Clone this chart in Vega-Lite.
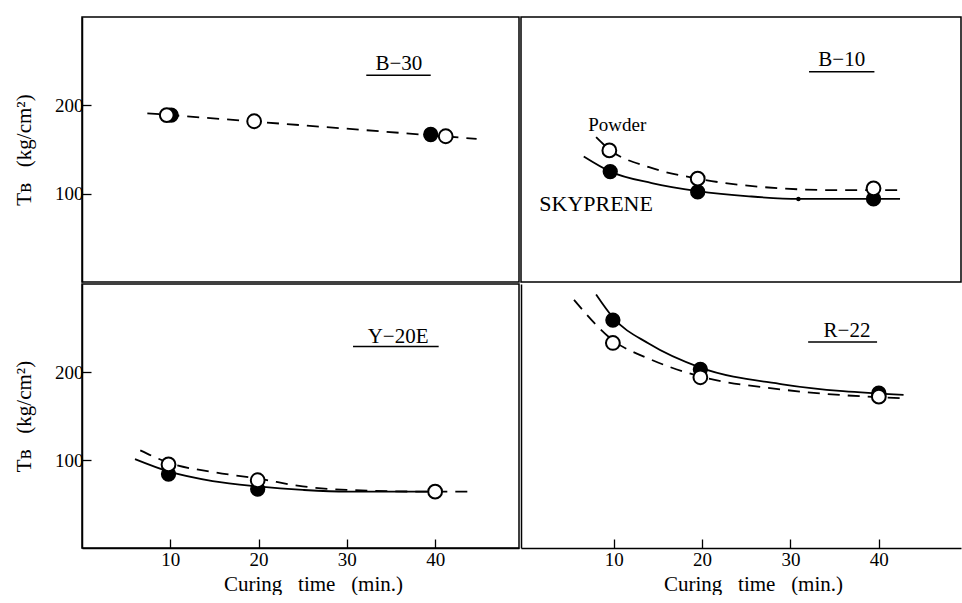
{
  "$schema": "https://vega.github.io/schema/vega-lite/v6.json",
  "padding": {"left": 12, "top": 16, "right": 0, "bottom": 0},
  "background": "white",
  "datasets": {
    "curves": [
      {"panel": "B−30", "series": "Powder", "t": 7.4, "tb": 191},
      {"panel": "B−30", "series": "Powder", "t": 19, "tb": 182},
      {"panel": "B−30", "series": "Powder", "t": 32, "tb": 172},
      {"panel": "B−30", "series": "Powder", "t": 44.7, "tb": 162},
      {"panel": "B−10", "series": "Powder", "t": 8.0, "tb": 164},
      {"panel": "B−10", "series": "Powder", "t": 9.5, "tb": 150},
      {"panel": "B−10", "series": "Powder", "t": 14, "tb": 130},
      {"panel": "B−10", "series": "Powder", "t": 19.5, "tb": 117},
      {"panel": "B−10", "series": "Powder", "t": 27.5, "tb": 107},
      {"panel": "B−10", "series": "Powder", "t": 35.3, "tb": 104},
      {"panel": "B−10", "series": "Powder", "t": 42.1, "tb": 104},
      {"panel": "B−10", "series": "SKYPRENE", "t": 6.6, "tb": 142},
      {"panel": "B−10", "series": "SKYPRENE", "t": 9.6, "tb": 125},
      {"panel": "B−10", "series": "SKYPRENE", "t": 14.3, "tb": 112},
      {"panel": "B−10", "series": "SKYPRENE", "t": 19.5, "tb": 103},
      {"panel": "B−10", "series": "SKYPRENE", "t": 25.3, "tb": 97},
      {"panel": "B−10", "series": "SKYPRENE", "t": 30.9, "tb": 94},
      {"panel": "B−10", "series": "SKYPRENE", "t": 42.4, "tb": 94},
      {"panel": "Y−20E", "series": "Powder", "t": 6.6, "tb": 111},
      {"panel": "Y−20E", "series": "Powder", "t": 9.8, "tb": 97},
      {"panel": "Y−20E", "series": "Powder", "t": 15, "tb": 86},
      {"panel": "Y−20E", "series": "Powder", "t": 19.9, "tb": 79},
      {"panel": "Y−20E", "series": "Powder", "t": 25, "tb": 70},
      {"panel": "Y−20E", "series": "Powder", "t": 30, "tb": 66},
      {"panel": "Y−20E", "series": "Powder", "t": 40, "tb": 64},
      {"panel": "Y−20E", "series": "Powder", "t": 44.3, "tb": 64},
      {"panel": "Y−20E", "series": "SKYPRENE", "t": 6, "tb": 101},
      {"panel": "Y−20E", "series": "SKYPRENE", "t": 9.8, "tb": 87},
      {"panel": "Y−20E", "series": "SKYPRENE", "t": 14.8, "tb": 76},
      {"panel": "Y−20E", "series": "SKYPRENE", "t": 19.9, "tb": 70},
      {"panel": "Y−20E", "series": "SKYPRENE", "t": 25, "tb": 66},
      {"panel": "Y−20E", "series": "SKYPRENE", "t": 30, "tb": 64},
      {"panel": "Y−20E", "series": "SKYPRENE", "t": 40, "tb": 64},
      {"panel": "R−22", "series": "Powder", "t": 5.5, "tb": 282},
      {"panel": "R−22", "series": "Powder", "t": 9.9, "tb": 236},
      {"panel": "R−22", "series": "Powder", "t": 14, "tb": 215},
      {"panel": "R−22", "series": "Powder", "t": 19.8, "tb": 195},
      {"panel": "R−22", "series": "Powder", "t": 29.1, "tb": 180},
      {"panel": "R−22", "series": "Powder", "t": 42.8, "tb": 170},
      {"panel": "R−22", "series": "SKYPRENE", "t": 8.0, "tb": 288},
      {"panel": "R−22", "series": "SKYPRENE", "t": 9.9, "tb": 262},
      {"panel": "R−22", "series": "SKYPRENE", "t": 14, "tb": 232},
      {"panel": "R−22", "series": "SKYPRENE", "t": 19.8, "tb": 205},
      {"panel": "R−22", "series": "SKYPRENE", "t": 29.1, "tb": 186},
      {"panel": "R−22", "series": "SKYPRENE", "t": 42.8, "tb": 174}
    ],
    "points": [
      {"panel": "B−30", "series": "SKYPRENE", "t": 10.1, "tb": 189},
      {"panel": "B−30", "series": "SKYPRENE", "t": 39.5, "tb": 167},
      {"panel": "B−30", "series": "Powder", "t": 9.6, "tb": 189},
      {"panel": "B−30", "series": "Powder", "t": 19.5, "tb": 182},
      {"panel": "B−30", "series": "Powder", "t": 41.2, "tb": 165},
      {"panel": "B−10", "series": "SKYPRENE", "t": 9.6, "tb": 125},
      {"panel": "B−10", "series": "SKYPRENE", "t": 19.5, "tb": 102},
      {"panel": "B−10", "series": "SKYPRENE", "t": 39.4, "tb": 94},
      {"panel": "B−10", "series": "dot", "t": 30.9, "tb": 94},
      {"panel": "B−10", "series": "Powder", "t": 9.5, "tb": 149},
      {"panel": "B−10", "series": "Powder", "t": 19.5, "tb": 117},
      {"panel": "B−10", "series": "Powder", "t": 39.4, "tb": 106},
      {"panel": "Y−20E", "series": "SKYPRENE", "t": 9.8, "tb": 84},
      {"panel": "Y−20E", "series": "SKYPRENE", "t": 19.9, "tb": 67},
      {"panel": "Y−20E", "series": "Powder", "t": 9.8, "tb": 95},
      {"panel": "Y−20E", "series": "Powder", "t": 19.9, "tb": 77},
      {"panel": "Y−20E", "series": "Powder", "t": 40, "tb": 64},
      {"panel": "R−22", "series": "SKYPRENE", "t": 9.9, "tb": 259},
      {"panel": "R−22", "series": "SKYPRENE", "t": 19.8, "tb": 203},
      {"panel": "R−22", "series": "SKYPRENE", "t": 40, "tb": 176},
      {"panel": "R−22", "series": "Powder", "t": 9.9, "tb": 233},
      {"panel": "R−22", "series": "Powder", "t": 19.8, "tb": 194},
      {"panel": "R−22", "series": "Powder", "t": 40, "tb": 172}
    ],
    "labels": [
      {"panel": "B−30", "name": "B−30", "size": "big", "t": 35.9, "tb": 247, "t2": 32.2, "t3": 39.5, "tu": 234},
      {"panel": "B−10", "name": "B−10", "size": "big", "t": 35.8, "tb": 251, "t2": 32.1, "t3": 39.5, "tu": 238},
      {"panel": "Y−20E", "name": "Y−20E", "size": "big", "t": 35.8, "tb": 240, "t2": 30.7, "t3": 40.4, "tu": 229},
      {"panel": "R−22", "name": "R−22", "size": "big", "t": 36.4, "tb": 247, "t2": 32.0, "t3": 39.8, "tu": 234},
      {"panel": "B−10", "name": "Powder", "size": "note", "t": 10.4, "tb": 178},
      {"panel": "B−10", "name": "SKYPRENE", "size": "note2", "t": 8.0, "tb": 88}
    ]
  },
  "columns": 2,
  "spacing": 0,
  "concat": [
    {
      "width": 437, "height": 265,
      "encoding": {
        "x": {"field": "t", "type": "quantitative", "scale": {"domain": [0, 49.5], "nice": false}, "axis": null},
        "y": {"field": "tb", "type": "quantitative", "scale": {"domain": [0, 300], "nice": false},
          "axis": {"values": [100, 200], "title": "Tʙ\u00a0\u00a0\u00a0(kg/cm²)", "tickSize": -9, "labelPadding": 8, "titlePadding": 20}}
      },
      "layer": [
        {"data": {"name": "curves"}, "transform": [{"filter": "datum.panel === 'B−30' && datum.series === 'Powder'"}],
         "mark": {"type": "line", "color": "black", "strokeWidth": 1.8, "strokeDash": [12, 8]}},
        {"data": {"name": "points"}, "transform": [{"filter": "datum.panel === 'B−30' && datum.series === 'SKYPRENE'"}],
         "mark": {"type": "point", "shape": "circle", "filled": true, "fill": "black", "stroke": "black", "strokeWidth": 1.5, "size": 190, "opacity": 1}},
        {"data": {"name": "points"}, "transform": [{"filter": "datum.panel === 'B−30' && datum.series === 'Powder'"}],
         "mark": {"type": "point", "shape": "circle", "filled": true, "fill": "white", "stroke": "black", "strokeWidth": 2, "size": 190, "opacity": 1}},
        {"data": {"name": "labels"}, "transform": [{"filter": "datum.panel === 'B−30' && datum.size === 'big'"}],
         "mark": {"type": "text", "font": "Liberation Serif", "fontSize": 21, "fontWeight": "normal", "fill": "black", "baseline": "middle"},
         "encoding": {"text": {"field": "name", "type": "nominal"}}},
        {"data": {"name": "labels"}, "transform": [{"filter": "datum.panel === 'B−30' && datum.size === 'big'"}],
         "mark": {"type": "rule", "color": "black", "strokeWidth": 1.5},
         "encoding": {"x": {"field": "t2", "type": "quantitative"}, "x2": {"field": "t3"}, "y": {"field": "tu", "type": "quantitative"}}}
      ]
    },
    {
      "width": 440, "height": 265,
      "encoding": {
        "x": {"field": "t", "type": "quantitative", "scale": {"domain": [-0.5, 49.3], "nice": false}, "axis": null},
        "y": {"field": "tb", "type": "quantitative", "scale": {"domain": [0, 300], "nice": false}, "axis": null}
      },
      "layer": [
        {"data": {"name": "curves"}, "transform": [{"filter": "datum.panel === 'B−10' && datum.series === 'Powder'"}],
         "mark": {"type": "line", "interpolate": "monotone", "color": "black", "strokeWidth": 1.8, "strokeDash": [12, 8]}},
        {"data": {"name": "curves"}, "transform": [{"filter": "datum.panel === 'B−10' && datum.series === 'SKYPRENE'"}],
         "mark": {"type": "line", "interpolate": "monotone", "color": "black", "strokeWidth": 1.8}},
        {"data": {"name": "points"}, "transform": [{"filter": "datum.panel === 'B−10' && datum.series === 'dot'"}],
         "mark": {"type": "point", "shape": "circle", "filled": true, "fill": "black", "size": 20, "opacity": 1}},
        {"data": {"name": "points"}, "transform": [{"filter": "datum.panel === 'B−10' && datum.series === 'SKYPRENE'"}],
         "mark": {"type": "point", "shape": "circle", "filled": true, "fill": "black", "stroke": "black", "strokeWidth": 1.5, "size": 190, "opacity": 1}},
        {"data": {"name": "points"}, "transform": [{"filter": "datum.panel === 'B−10' && datum.series === 'Powder'"}],
         "mark": {"type": "point", "shape": "circle", "filled": true, "fill": "white", "stroke": "black", "strokeWidth": 2, "size": 190, "opacity": 1}},
        {"data": {"name": "labels"}, "transform": [{"filter": "datum.panel === 'B−10' && datum.size === 'big'"}],
         "mark": {"type": "text", "font": "Liberation Serif", "fontSize": 21, "fontWeight": "normal", "fill": "black", "baseline": "middle"},
         "encoding": {"text": {"field": "name", "type": "nominal"}}},
        {"data": {"name": "labels"}, "transform": [{"filter": "datum.panel === 'B−10' && datum.size === 'big'"}],
         "mark": {"type": "rule", "color": "black", "strokeWidth": 1.5},
         "encoding": {"x": {"field": "t2", "type": "quantitative"}, "x2": {"field": "t3"}, "y": {"field": "tu", "type": "quantitative"}}},
        {"data": {"name": "labels"}, "transform": [{"filter": "datum.size === 'note'"}],
         "mark": {"type": "text", "font": "Liberation Serif", "fontSize": 19, "fontWeight": "normal", "fill": "black", "baseline": "middle"},
         "encoding": {"text": {"field": "name", "type": "nominal"}}},
        {"data": {"name": "labels"}, "transform": [{"filter": "datum.size === 'note2'"}],
         "mark": {"type": "text", "font": "Liberation Serif", "fontSize": 22, "fontWeight": "normal", "fill": "black", "baseline": "middle"},
         "encoding": {"text": {"field": "name", "type": "nominal"}}}
      ]
    },
    {
      "width": 437, "height": 264,
      "encoding": {
        "x": {"field": "t", "type": "quantitative", "scale": {"domain": [0, 49.5], "nice": false},
          "axis": {"values": [10, 20, 30, 40], "title": "Curing\u00a0\u00a0\u00a0time\u00a0\u00a0\u00a0(min.)", "tickSize": -9, "labelPadding": 11, "titlePadding": 4, "titleX": 231, "titleAlign": "center"}},
        "y": {"field": "tb", "type": "quantitative", "scale": {"domain": [0, 300], "nice": false},
          "axis": {"values": [100, 200], "title": "Tʙ\u00a0\u00a0\u00a0(kg/cm²)", "tickSize": -9, "labelPadding": 8, "titlePadding": 20}}
      },
      "layer": [
        {"data": {"name": "curves"}, "transform": [{"filter": "datum.panel === 'Y−20E' && datum.series === 'Powder'"}],
         "mark": {"type": "line", "interpolate": "monotone", "color": "black", "strokeWidth": 1.8, "strokeDash": [12, 8]}},
        {"data": {"name": "curves"}, "transform": [{"filter": "datum.panel === 'Y−20E' && datum.series === 'SKYPRENE'"}],
         "mark": {"type": "line", "interpolate": "monotone", "color": "black", "strokeWidth": 1.8}},
        {"data": {"name": "points"}, "transform": [{"filter": "datum.panel === 'Y−20E' && datum.series === 'SKYPRENE'"}],
         "mark": {"type": "point", "shape": "circle", "filled": true, "fill": "black", "stroke": "black", "strokeWidth": 1.5, "size": 190, "opacity": 1}},
        {"data": {"name": "points"}, "transform": [{"filter": "datum.panel === 'Y−20E' && datum.series === 'Powder'"}],
         "mark": {"type": "point", "shape": "circle", "filled": true, "fill": "white", "stroke": "black", "strokeWidth": 2, "size": 190, "opacity": 1}},
        {"data": {"name": "labels"}, "transform": [{"filter": "datum.panel === 'Y−20E' && datum.size === 'big'"}],
         "mark": {"type": "text", "font": "Liberation Serif", "fontSize": 21, "fontWeight": "normal", "fill": "black", "baseline": "middle"},
         "encoding": {"text": {"field": "name", "type": "nominal"}}},
        {"data": {"name": "labels"}, "transform": [{"filter": "datum.panel === 'Y−20E' && datum.size === 'big'"}],
         "mark": {"type": "rule", "color": "black", "strokeWidth": 1.5},
         "encoding": {"x": {"field": "t2", "type": "quantitative"}, "x2": {"field": "t3"}, "y": {"field": "tu", "type": "quantitative"}}}
      ]
    },
    {
      "width": 440, "height": 264,
      "view": {"stroke": null},
      "encoding": {
        "x": {"field": "t", "type": "quantitative", "scale": {"domain": [-0.5, 49.3], "nice": false},
          "axis": {"values": [10, 20, 30, 40], "title": "Curing\u00a0\u00a0\u00a0time\u00a0\u00a0\u00a0(min.)", "tickSize": -9, "labelPadding": 11, "titlePadding": 4, "titleX": 232, "titleAlign": "center"}},
        "y": {"field": "tb", "type": "quantitative", "scale": {"domain": [0, 300], "nice": false},
          "axis": {"labels": false, "ticks": false, "title": null, "values": []}}
      },
      "layer": [
        {"data": {"name": "curves"}, "transform": [{"filter": "datum.panel === 'R−22' && datum.series === 'Powder'"}],
         "mark": {"type": "line", "interpolate": "monotone", "color": "black", "strokeWidth": 1.8, "strokeDash": [12, 8]}},
        {"data": {"name": "curves"}, "transform": [{"filter": "datum.panel === 'R−22' && datum.series === 'SKYPRENE'"}],
         "mark": {"type": "line", "interpolate": "monotone", "color": "black", "strokeWidth": 1.8}},
        {"data": {"name": "points"}, "transform": [{"filter": "datum.panel === 'R−22' && datum.series === 'SKYPRENE'"}],
         "mark": {"type": "point", "shape": "circle", "filled": true, "fill": "black", "stroke": "black", "strokeWidth": 1.5, "size": 190, "opacity": 1}},
        {"data": {"name": "points"}, "transform": [{"filter": "datum.panel === 'R−22' && datum.series === 'Powder'"}],
         "mark": {"type": "point", "shape": "circle", "filled": true, "fill": "white", "stroke": "black", "strokeWidth": 2, "size": 190, "opacity": 1}},
        {"data": {"name": "labels"}, "transform": [{"filter": "datum.panel === 'R−22' && datum.size === 'big'"}],
         "mark": {"type": "text", "font": "Liberation Serif", "fontSize": 21, "fontWeight": "normal", "fill": "black", "baseline": "middle"},
         "encoding": {"text": {"field": "name", "type": "nominal"}}},
        {"data": {"name": "labels"}, "transform": [{"filter": "datum.panel === 'R−22' && datum.size === 'big'"}],
         "mark": {"type": "rule", "color": "black", "strokeWidth": 1.5},
         "encoding": {"x": {"field": "t2", "type": "quantitative"}, "x2": {"field": "t3"}, "y": {"field": "tu", "type": "quantitative"}}}
      ]
    }
  ],
  "config": {
    "font": "Liberation Serif",
    "view": {"stroke": "black", "strokeWidth": 1.5},
    "axis": {"grid": false, "domainColor": "black", "domainWidth": 1.5, "tickColor": "black", "tickWidth": 1.3,
      "labelColor": "black", "titleColor": "black", "labelFont": "Liberation Serif", "titleFont": "Liberation Serif",
      "labelFontSize": 19, "titleFontSize": 21, "titleFontWeight": "normal"}
  }
}
